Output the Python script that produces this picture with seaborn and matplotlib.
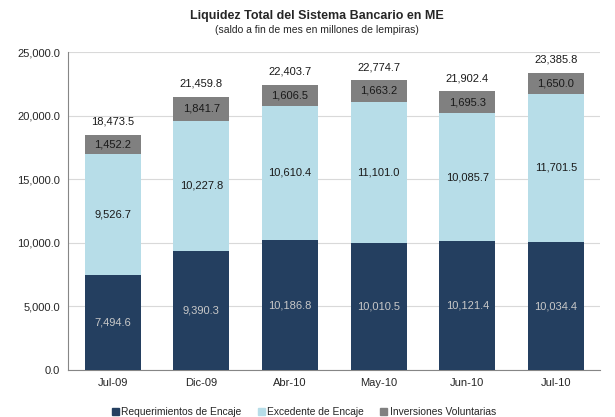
import matplotlib
matplotlib.use("Agg")
import matplotlib.pyplot as plt
import seaborn as sns
import numpy as np
import pandas as pd
from matplotlib.patches import Patch

categories = ["Jul-09", "Dic-09", "Abr-10", "May-10", "Jun-10", "Jul-10"]
requerimientos = [7494.6, 9390.3, 10186.8, 10010.5, 10121.4, 10034.4]
excedente = [9526.7, 10227.8, 10610.4, 11101.0, 10085.7, 11701.5]
inversiones = [1452.2, 1841.7, 1606.5, 1663.2, 1695.3, 1650.0]
totales = [18473.5, 21459.8, 22403.7, 22774.7, 21902.4, 23385.8]
series_names = ["Requerimientos de Encaje", "Excedente de Encaje", "Inversiones Voluntarias"]

c_req = "#243F60"
c_exc = "#B7DDE8"
c_inv = "#808080"

sns.set_theme(style="white")
plt.rcParams["font.family"] = ["Liberation Sans", "DejaVu Sans"]

df = pd.DataFrame({"cat": categories, "req": requerimientos, "exc": excedente, "inv": inversiones})
df["s1"] = df["req"]
df["s2"] = df["req"] + df["exc"]
df["s3"] = df["s2"] + df["inv"]

fig = plt.figure(figsize=(6.15, 4.17), dpi=100)
ax = fig.add_axes([0.111, 0.113, 0.865, 0.762])

w = 0.63
for col, c in [("s3", c_inv), ("s2", c_exc), ("s1", c_req)]:
    sns.barplot(data=df, x="cat", y=col, color=c, width=w, ax=ax, saturation=1,
                zorder=3, linewidth=0, edgecolor="none")

ax.set_ylim(0, 25000)
ax.set_xlim(-0.5, len(categories) - 0.5)
ax.set_yticks(np.arange(0, 25001, 5000))
ax.set_yticklabels([f"{v:,.1f}" for v in np.arange(0, 25001, 5000)], fontsize=8)
ax.set_xlabel("")
ax.set_ylabel("")
ax.tick_params(axis="x", labelsize=8, length=0, pad=6)
ax.tick_params(axis="y", length=3, color="#868686", direction="out", pad=3)
ax.yaxis.grid(True, color="#D9D9D9", linewidth=0.8, zorder=0)
ax.set_axisbelow(True)
for s in ["top", "right"]:
    ax.spines[s].set_visible(False)
for s in ["left", "bottom"]:
    ax.spines[s].set_color("#868686")
    ax.spines[s].set_linewidth(0.8)

for i in range(len(categories)):
    r, e, v, t = requerimientos[i], excedente[i], inversiones[i], totales[i]
    ax.text(i, r / 2, f"{r:,.1f}", ha="center", va="center", fontsize=8, color="#C8C8C8", zorder=5)
    ax.text(i, r + e / 2, f"{e:,.1f}", ha="center", va="center", fontsize=8, color="#1a1a1a", zorder=5)
    ax.text(i, r + e + v / 2, f"{v:,.1f}", ha="center", va="center", fontsize=8, color="#1a1a1a", zorder=5)
    ax.text(i, r + e + v + 650, f"{t:,.1f}", ha="center", va="bottom", fontsize=8, color="#1a1a1a", zorder=5)

fig.text(0.515, 0.962, "Liquidez Total del Sistema Bancario en ME", ha="center", va="center",
         fontsize=9, fontweight="bold")
fig.text(0.515, 0.928, "(saldo a fin de mes en millones de lempiras)", ha="center", va="center", fontsize=7.5)

handles = [Patch(color=c_req), Patch(color=c_exc), Patch(color=c_inv)]
fig.legend(handles, series_names, loc="center", bbox_to_anchor=(0.494, 0.012), ncol=3, frameon=False,
           fontsize=7.4, handlelength=0.7, handleheight=0.7, handletextpad=0.2, columnspacing=1.6,
           borderpad=0)

fig.savefig("out.png", dpi=100)
